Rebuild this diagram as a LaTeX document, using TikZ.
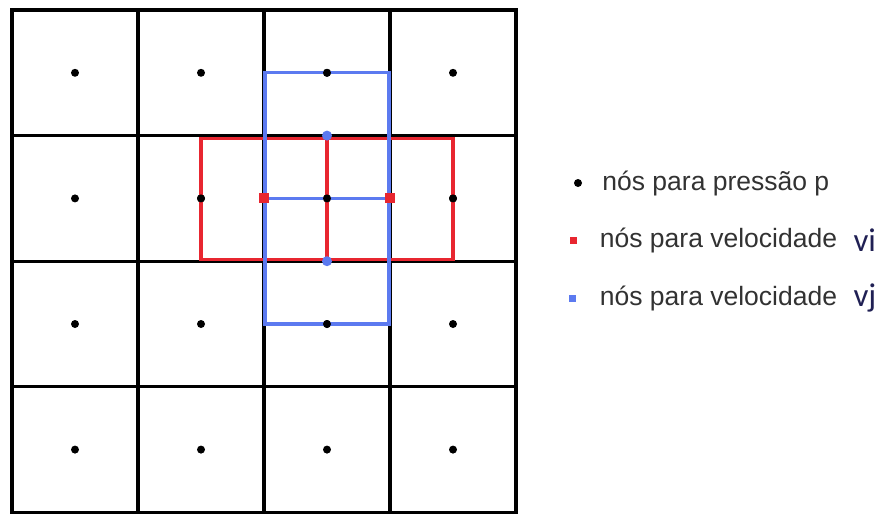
\documentclass[tikz,border=0pt]{standalone}
\usepackage{fontspec}
\newfontfamily\legendfont{Liberation Sans}
\newfontfamily\compfont{Carlito}
\usetikzlibrary{calc,positioning}
\definecolor{velred}{RGB}{232,38,48}
\definecolor{velblue}{RGB}{92,122,240}
\definecolor{legendgray}{RGB}{50,50,50}
\definecolor{compnavy}{RGB}{32,32,84}
\tikzset{
    cell/.style   = {draw, line width=3.2pt},
    ucell/.style  = {draw=velred, line width=3.2pt},
    vcell/.style  = {draw=velblue, line width=3.2pt},
    pnode/.style  = {circle, fill, inner sep=0pt, minimum size=8pt},
    unode/.style  = {rectangle, fill=velred, inner sep=0pt, minimum size=10pt},
    vnode/.style  = {circle, fill=velblue, inner sep=0pt, minimum size=10pt},
    legend/.style = {font=\legendfont\fontsize{26.5}{30}\selectfont,
                     text=legendgray, inner sep=0pt},
    comp/.style   = {font=\compfont\fontsize{33}{38}\selectfont,
                     text=compnavy, inner sep=0pt}
}
\begin{document}
\begin{tikzpicture}[x=1pt, y=-1pt]
\useasboundingbox (0,0) rectangle (890,514);

% ================= Mesh cells and pressure nodes =================
\foreach \i in {1,...,4}
  \foreach \j in {1,...,4} {
    \draw[cell] ({12+126*(\i-1)},{10+125.6*(\j-1)}) rectangle ++(126,125.6);
    \node[pnode] (p\i\j) at ({12+126*(\i-0.5)},{10+125.6*(\j-0.5)}) {};
  }

% ================= Control volumes for vi (red) =================
\draw[ucell] ($(p22)+(0,-60)$) rectangle ($(p42)+(0,61)$);
\draw[ucell] ($(p32)+(0,-60)$) -- ($(p32)+(0,61)$);

% ================= Control volumes for vj (blue) =================
\draw[vcell] ($(p31)+(-62,0)$) rectangle ($(p33)+(62,0)$);
\draw[vcell] ($(p32)+(-62,0)$) -- ($(p32)+(62,0)$);

% pressure nodes again on top of the lines
\foreach \i/\j in {2/2,3/2,4/2,3/1,3/3}
  \fill (p\i\j) circle (4pt);

% ================= Velocity nodes =================
\node[unode] (u1) at ($(p22)!0.5!(p32)$) {};
\node[unode] (u2) at ($(p32)!0.5!(p42)$) {};
\node[vnode] (v1) at ($(p31)!0.5!(p32)$) {};
\node[vnode] (v2) at ($(p32)!0.5!(p33)$) {};

% ================= Legend =================
\node[pnode] (lp) at (578,183) {};
\node[unode, minimum size=7pt] (lu) at (573,240) {};
\node[vnode, rectangle, minimum size=7pt] (lv) at (572,298) {};

\node[legend, right=20pt of lp] (lpt) {nós para pressão p};
\node[legend, right=23pt of lu] (lut) {nós para velocidade};
\node[legend, right=24pt of lv] (lvt) {nós para velocidade};
\node[comp, right=16pt of lut] (vi) {vi};
\node[comp, right=16pt of lvt] (vj) {vj};

\end{tikzpicture}
\end{document}
